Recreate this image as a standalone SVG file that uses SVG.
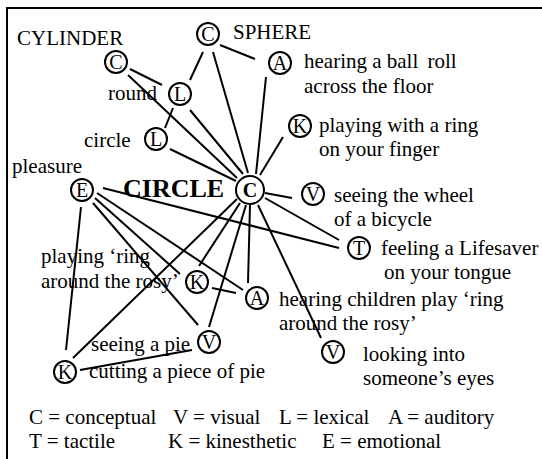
<svg xmlns="http://www.w3.org/2000/svg" width="542" height="459" viewBox="0 0 542 459">
<style>
text{font-family:"Liberation Serif","Times New Roman",serif;font-size:21px;fill:#000}
.n circle{fill:#fff;stroke:#000;stroke-width:2}
.n text{text-anchor:middle;font-size:20px}
#links line{stroke:#000;stroke-width:2}
.big{font-size:26px;font-weight:bold}
</style>
<rect x="0" y="0" width="542" height="459" fill="#fff"/>
<rect x="7" y="8" width="542" height="470" fill="none" stroke="#000" stroke-width="2"/>
<g id="links">
<line x1="203" y1="52" x2="190" y2="80"/>
<line x1="220" y1="45" x2="255" y2="59"/>
<line x1="213" y1="52" x2="248" y2="173"/>
<line x1="130" y1="69" x2="162" y2="85"/>
<line x1="128" y1="75" x2="237" y2="178"/>
<line x1="173" y1="108" x2="165" y2="128"/>
<line x1="190" y1="110" x2="243" y2="174"/>
<line x1="170" y1="149" x2="236" y2="181"/>
<line x1="266" y1="77" x2="256" y2="174"/>
<line x1="283" y1="137" x2="260" y2="175"/>
<line x1="265" y1="193" x2="292" y2="198"/>
<line x1="265" y1="198" x2="339" y2="240"/>
<line x1="103" y1="188" x2="339" y2="248"/>
<line x1="95" y1="198" x2="180" y2="274"/>
<line x1="97" y1="193" x2="243" y2="290"/>
<line x1="93" y1="203" x2="198" y2="325"/>
<line x1="81" y1="207" x2="66" y2="350"/>
<line x1="73" y1="358" x2="237" y2="199"/>
<line x1="199" y1="266" x2="240" y2="203"/>
<line x1="209" y1="327" x2="246" y2="205"/>
<line x1="250" y1="205" x2="248" y2="283"/>
<line x1="258" y1="205" x2="321" y2="338"/>
<line x1="212" y1="288" x2="236" y2="293"/>
<line x1="80" y1="370" x2="192" y2="350"/>
</g>
<g id="sphere" class="n"><circle cx="208" cy="34" r="11"/><text x="208" y="41">C</text></g>
<g id="cylinder" class="n"><circle cx="116" cy="62" r="11"/><text x="116" y="69">C</text></g>
<g id="round" class="n"><circle cx="180" cy="94" r="11"/><text x="180" y="101">L</text></g>
<g id="circleword" class="n"><circle cx="156" cy="139" r="11"/><text x="156" y="146">L</text></g>
<g id="ball" class="n"><circle cx="280" cy="63" r="11"/><text x="280" y="70">A</text></g>
<g id="ring" class="n"><circle cx="300" cy="126" r="11"/><text x="300" y="133">K</text></g>
<g id="center" class="n"><circle cx="250" cy="190" r="14"/><text x="250" y="197" style="font-weight:bold">C</text></g>
<g id="pleasure" class="n"><circle cx="82" cy="190" r="11"/><text x="82" y="197">E</text></g>
<g id="wheel" class="n"><circle cx="313" cy="194" r="11"/><text x="313" y="201">V</text></g>
<g id="lifesaver" class="n"><circle cx="359" cy="248" r="11"/><text x="359" y="255">T</text></g>
<g id="rosyK" class="n"><circle cx="197" cy="282" r="11"/><text x="197" y="289">K</text></g>
<g id="rosyA" class="n"><circle cx="257" cy="298" r="11"/><text x="257" y="305">A</text></g>
<g id="pieV" class="n"><circle cx="209" cy="342" r="11"/><text x="209" y="349">V</text></g>
<g id="pieK" class="n"><circle cx="65" cy="372" r="11"/><text x="65" y="379">K</text></g>
<g id="eyes" class="n"><circle cx="333" cy="352" r="11"/><text x="333" y="359">V</text></g>
<g id="labels">
<text x="17" y="45">CYLINDER</text>
<text x="233" y="39">SPHERE</text>
<text x="304" y="68">hearing a ball <tspan dx="4">roll</tspan></text>
<text x="304" y="93">across the floor</text>
<text x="319" y="132">playing with a ring</text>
<text x="319" y="156">on your finger</text>
<text x="108" y="100">round</text>
<text x="84" y="147">circle</text>
<text x="12" y="173">pleasure</text>
<text x="123" y="197" class="big">CIRCLE</text>
<text x="334" y="202">seeing the wheel</text>
<text x="334" y="226">of a bicycle</text>
<text x="381" y="255">feeling a Lifesaver</text>
<text x="384" y="279">on your tongue</text>
<text x="41" y="263">playing ‘ring</text>
<text x="41" y="288">around the rosy’</text>
<text x="279" y="306">hearing children play ‘ring</text>
<text x="279" y="330">around the rosy’</text>
<text x="363" y="361">looking into</text>
<text x="363" y="385">someone’s eyes</text>
<text x="91" y="351">seeing a pie</text>
<text x="89" y="378">cutting a piece of pie</text>
<text x="29" y="424">C = conceptual</text>
<text x="173" y="424">V = visual</text>
<text x="279" y="424">L = lexical</text>
<text x="388" y="424">A = auditory</text>
<text x="29" y="448">T = tactile</text>
<text x="168" y="448">K = kinesthetic</text>
<text x="322" y="448">E = emotional</text>
</g>
</svg>
